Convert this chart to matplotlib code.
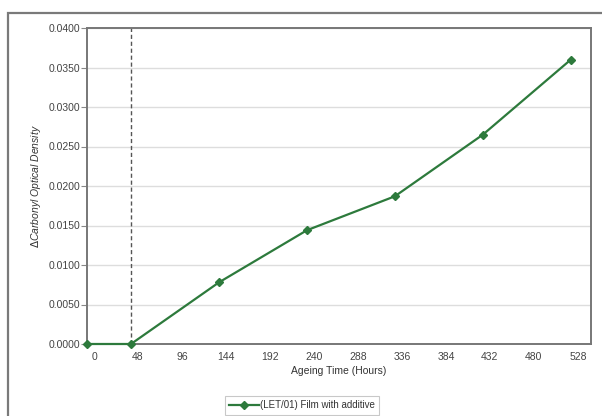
import matplotlib.pyplot as plt
import matplotlib.transforms as mtransforms
from matplotlib.patches import Rectangle

# data
hours = [0, 48, 144, 240, 336, 432, 528]
carbonyl = [0.0, 0.0, 0.0078, 0.0144, 0.0187, 0.0265, 0.0360]
xticks = [0, 48, 96, 144, 192, 240, 288, 336, 384, 432, 480, 528]
yticks = [0.0, 0.005, 0.010, 0.015, 0.020, 0.025, 0.030, 0.035, 0.040]
series_name = "(LET/01) Film with additive"

plt.rcParams['font.family'] = ['Liberation Sans', 'DejaVu Sans']

fig = plt.figure(figsize=(6.02, 4.16), dpi=100)
ax = fig.add_axes([87/602, 1 - 344/416, (591-87)/602, (344-28)/416])

# outer frame of the original graphic
fig.patches.append(Rectangle((8/602, -0.2), 1.2, 1.2 - 13/416, transform=fig.transFigure,
                             fill=False, edgecolor='#7a7a7a', linewidth=1.6))

green = '#2d7a3c'
ax.plot(hours, carbonyl, color=green, lw=1.6, marker='D', ms=4,
        markeredgecolor=green, label=series_name, clip_on=False, zorder=3)
ax.axvline(48, color='#555555', lw=1.0, ls=(0, (3, 2)), zorder=2)

ax.set_xlim(0, 550)
ax.set_ylim(0, 0.04)
ax.set_xticks(xticks)
ax.set_yticks(yticks)
ax.set_yticklabels(['%.4f' % v for v in yticks])
ax.grid(axis='y', color='#dddddd', lw=1.0)
ax.set_axisbelow(True)

ax.tick_params(axis='x', length=0, pad=6, labelsize=7.5, labelcolor='#444444')
ax.tick_params(axis='y', length=4, width=0.8, color='#888888', pad=1,
               labelsize=7.5, labelcolor='#444444')
# shift the x labels right like the original
offset = mtransforms.ScaledTranslation(7/100, 0, fig.dpi_scale_trans)
for lab in ax.get_xticklabels():
    lab.set_transform(lab.get_transform() + offset)

for s in ax.spines.values():
    s.set_color('#777777')
    s.set_linewidth(1.4)

ax.set_xlabel('Ageing Time (Hours)', fontsize=7.5, color='#333333', labelpad=3)
ax.set_ylabel(r'$\Delta$Carbonyl Optical Density', fontsize=7.5, color='#333333',
              style='italic', labelpad=4)

leg = fig.legend(loc='upper left', bbox_to_anchor=(225/602, 1 - 396/416),
                 fontsize=7, frameon=True, fancybox=False, borderpad=0.45,
                 borderaxespad=0, handlelength=3.0, handletextpad=0.1)
leg.get_frame().set_edgecolor('#bbbbbb')
leg.get_frame().set_linewidth(0.8)
for t in leg.get_texts():
    t.set_color('#333333')

fig.savefig('out.png', dpi=100)
